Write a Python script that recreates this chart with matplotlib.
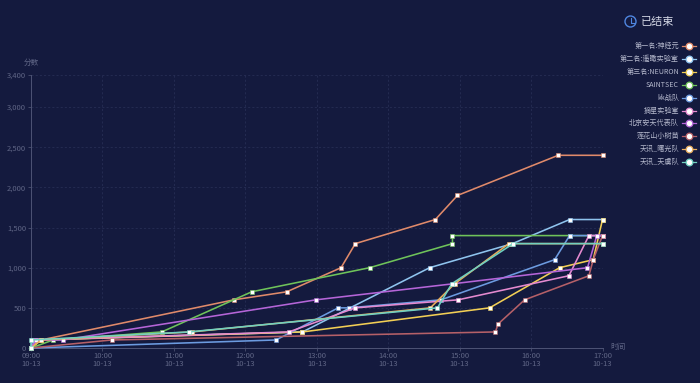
import matplotlib
matplotlib.use("Agg")
import matplotlib.pyplot as plt
import matplotlib.patches as patches
from matplotlib.lines import Line2D

plt.rcParams['font.family'] = ['Noto Sans CJK SC', 'DejaVu Sans']

# hours after 09:00, scores
names = ["第一名:神经元", "第二名:遥瞰实验室", "第三名:NEURON", "SAINTSEC", "kk战队",
         "摘星实验室", "北京安天代表队", "莲花山小树苗", "天讯_曙光队", "天讯_天虞队"]
colors = ["#e08a6a", "#8fc4ee", "#f2cf55", "#6fc35a", "#6c9be0",
          "#e58ad0", "#b565d8", "#b56068", "#e8ad5a", "#70d0c0"]

t1 = [0, 0.14, 2.84, 3.58, 4.34, 4.54, 5.66, 5.97, 7.38, 8.0]
s1 = [0, 100, 600, 700, 1000, 1300, 1600, 1900, 2400, 2400]
t2 = [0, 0.02, 3.8, 5.58, 6.74, 7.54, 8.0]
s2 = [0, 100, 200, 1000, 1300, 1600, 1600]
t3 = [0, 0.14, 3.8, 6.42, 7.4, 7.87, 8.0]
s3 = [0, 100, 200, 500, 1000, 1100, 1600]
t4 = [0, 0.31, 1.83, 3.09, 4.74, 5.9, 5.9, 7.54, 8.0]
s4 = [0, 100, 200, 700, 1000, 1300, 1400, 1400, 1400]
t5 = [0, 3.43, 4.3, 4.45, 5.74, 7.33, 7.54, 8.0]
s5 = [0, 100, 500, 500, 600, 1100, 1400, 1400]
t6 = [0, 0.07, 3.61, 4.54, 5.98, 7.53, 7.81, 8.0]
s6 = [0, 100, 200, 500, 600, 900, 1400, 1400]
t7 = [0, 0.07, 0.45, 3.99, 5.91, 7.79, 7.92, 8.0]
s7 = [0, 100, 100, 600, 800, 1000, 1400, 1400]
t8 = [0, 1.13, 6.5, 6.54, 6.91, 7.81, 7.87, 8.0]
s8 = [0, 100, 200, 300, 600, 900, 1100, 1400]
t9 = [0, 0.14, 2.25, 5.59, 5.93, 6.69, 8.0]
s9 = [0, 100, 200, 500, 800, 1300, 1300]
t10 = [0, 0.0, 2.21, 5.69, 5.89, 6.75, 8.0]
s10 = [0, 100, 200, 500, 800, 1300, 1300]

times = [t1, t2, t3, t4, t5, t6, t7, t8, t9, t10]
scores = [s1, s2, s3, s4, s5, s6, s7, s8, s9, s10]

hour_ticks = [0, 1, 2, 3, 4, 5, 6, 7, 8]
hour_labels = ["09:00\n10-13", "10:00\n10-13", "11:00\n10-13", "12:00\n10-13", "13:00\n10-13",
               "14:00\n10-13", "15:00\n10-13", "16:00\n10-13", "17:00\n10-13"]
score_ticks = [0, 500, 1000, 1500, 2000, 2500, 3000, 3400]
score_labels = ["0", "500", "1,000", "1,500", "2,000", "2,500", "3,000", "3,400"]

bg = "#141a3e"
txt = "#5f6585"
W, H = 700, 383

fig = plt.figure(figsize=(7, 3.83), dpi=100, facecolor=bg)
ax = fig.add_axes([31 / W, 1 - 348 / H, (602.5 - 31) / W, (348 - 75) / H], facecolor=bg)

for i in range(len(names)):
    ax.plot(times[i], scores[i], color=colors[i], lw=1.15, marker='s', ms=2.6, mfc='white',
            mec=colors[i], mew=0.4, clip_on=False, zorder=3 + i * 0.1)

ax.set_xlim(0, 8)
ax.set_ylim(0, 3400)
ax.set_xticks(hour_ticks)
ax.set_xticklabels(hour_labels, fontsize=5.5, color=txt, linespacing=1.0)
ax.set_yticks(score_ticks)
ax.set_yticklabels(score_labels, fontsize=5.5, color=txt)
ax.tick_params(axis='x', color="#4a5070", length=2, width=0.6, pad=1)
ax.tick_params(axis='y', color="#4a5070", length=2, width=0.6, pad=1.5)
ax.grid(True, color="#2a3158", lw=0.5, ls=(0, (3, 3)))
ax.set_axisbelow(True)
for side in ['top', 'right']:
    ax.spines[side].set_visible(False)
for side in ['left', 'bottom']:
    ax.spines[side].set_color("#4d5375")
    ax.spines[side].set_linewidth(0.7)

fig.text(31 / W, 1 - 63 / H, "分数", fontsize=5.5, color=txt, ha='center', va='center')
fig.text(618 / W, 1 - 347 / H, "时间", fontsize=5.5, color=txt, ha='center', va='center')

# legend, drawn in figure pixels
legend_y = [46 + 12.9 * i for i in range(len(names))]
for i, name in enumerate(names):
    y = 1 - legend_y[i] / H
    fig.text(679 / W, y, name, fontsize=5.1, color="#b4b8cc", ha='right', va='center')
    fig.add_artist(Line2D([682 / W, 696 / W], [y, y], color=colors[i], lw=0.9))
    fig.add_artist(Line2D([689 / W], [y], marker='o', ms=4.8, mfc='white', mec=colors[i], mew=0.9, ls='none'))

# title with clock icon
fig.text(640.5 / W, 1 - 21.5 / H, "已结束", fontsize=8, color="#d5d8e6", ha='left', va='center')
fig.add_artist(patches.Ellipse((630.5 / W, 1 - 21.5 / H), 11 / W, 11 / H, fill=False, ec="#4f86e0", lw=1.0,
                               transform=fig.transFigure))
fig.add_artist(Line2D([630.5 / W, 630.5 / W, 634 / W], [1 - 17.5 / H, 1 - 22.5 / H, 1 - 22.5 / H],
                      color="#4f86e0", lw=0.8))

fig.savefig("out.png", dpi=100, facecolor=bg)
